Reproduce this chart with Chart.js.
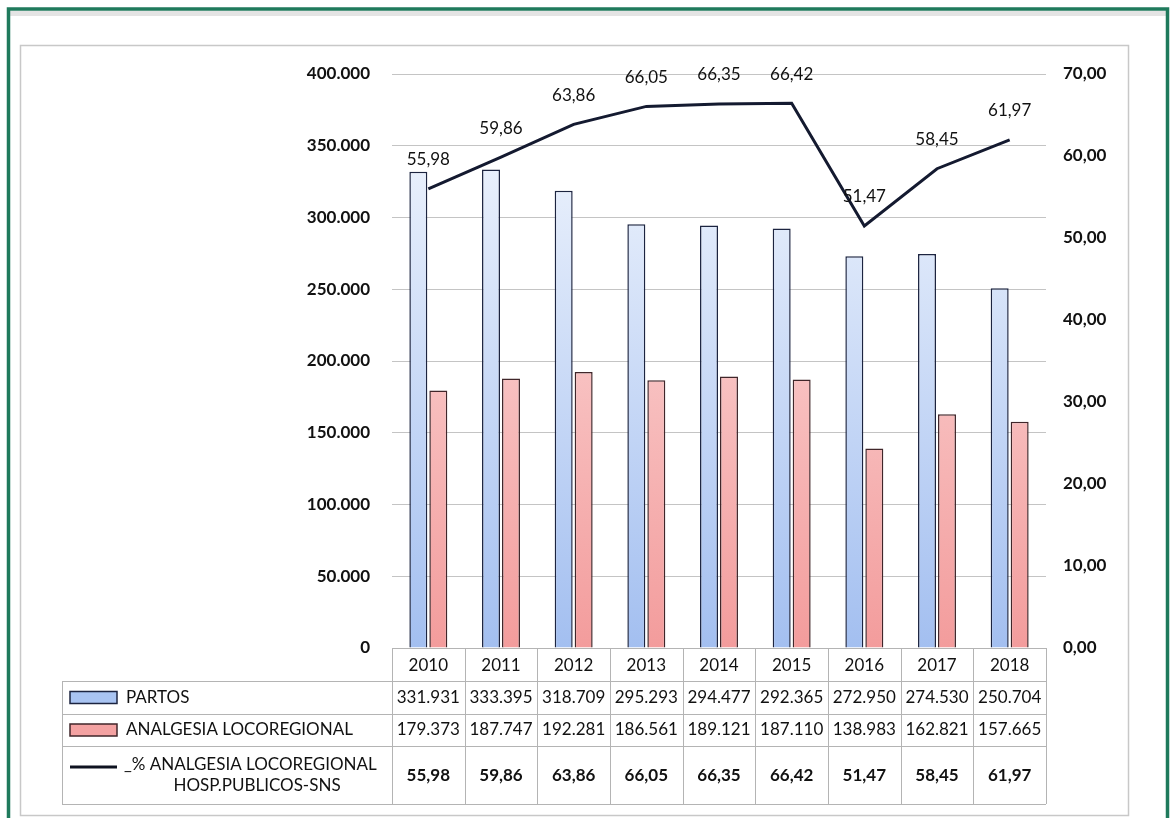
<!DOCTYPE html>
<html>
<head>
<meta charset="utf-8">
<script src="https://cdn.jsdelivr.net/npm/chart.js@4/dist/chart.umd.min.js"></script>
<style>
  html, body { margin: 0; padding: 0; background: #fff; overflow: hidden; }
  canvas { display: block; }
</style>
</head>
<body>
<canvas id="chart" width="1173" height="818"></canvas>
<script>
// Births and loco-regional analgesia, Spanish public hospitals (SNS), 2010-2018
const years = ['2010', '2011', '2012', '2013', '2014', '2015', '2016', '2017', '2018'];
const partos = [331931, 333395, 318709, 295293, 294477, 292365, 272950, 274530, 250704];
const analgesia = [179373, 187747, 192281, 186561, 189121, 187110, 138983, 162821, 157665];
const pctAnalgesia = [55.98, 59.86, 63.86, 66.05, 66.35, 66.42, 51.47, 58.45, 61.97];
const seriesNames = ['PARTOS', 'ANALGESIA LOCOREGIONAL', ['_% ANALGESIA LOCOREGIONAL', 'HOSP.PUBLICOS-SNS']];
const leftAxis = { min: 0, max: 400000, step: 50000 };
const rightAxis = { min: 0, max: 70, step: 10 };

const FONT = 'Lato';
const fmtThousands = v => v === 0 ? '0' : String(Math.round(v)).replace(/\B(?=(\d{3})+(?!\d))/g, '.');
const fmtPct = v => v.toFixed(2).replace('.', ',');

function vGradient(ctx, area, top, bottom) {
  const g = ctx.createLinearGradient(0, area.top, 0, area.bottom);
  g.addColorStop(0, top);
  g.addColorStop(1, bottom);
  return g;
}

// Page frame: green border, grey strip and inner chart-area box
const framePlugin = {
  id: 'frame',
  beforeDraw(chart) {
    const c = chart.ctx;
    c.save();
    c.fillStyle = '#ffffff';
    c.fillRect(0, 0, chart.width, chart.height);
    c.fillStyle = '#e4e4e4';
    c.fillRect(10, 11, 1156, 5);
    c.strokeStyle = '#1f7a5c';
    c.lineWidth = 3.5;
    c.strokeRect(8.5, 9, 1159, 840);
    c.strokeStyle = '#c8c8c8';
    c.lineWidth = 1.5;
    c.strokeRect(20.5, 45.5, 1108, 770);
    c.restore();
  }
};

// Value labels above the percentage line
const lineLabelPlugin = {
  id: 'lineLabels',
  afterDatasetsDraw(chart) {
    const c = chart.ctx;
    const meta = chart.getDatasetMeta(2);
    c.save();
    c.font = `17px ${FONT}`;
    c.fillStyle = '#111';
    c.textAlign = 'center';
    c.textBaseline = 'middle';
    meta.data.forEach((pt, i) => {
      c.fillText(fmtPct(pctAnalgesia[i]), pt.x, pt.y - 29);
    });
    c.restore();
  }
};

// Data table under the plot, aligned with the category columns
const tablePlugin = {
  id: 'dataTable',
  afterDraw(chart) {
    const c = chart.ctx;
    const ca = chart.chartArea;
    const n = years.length;
    const colW = (ca.right - ca.left) / n;
    const rows = [ca.bottom, 681, 714, 746, 804];
    const tableLeft = 62;
    c.save();
    c.strokeStyle = '#b4b4b4';
    c.lineWidth = 1;
    // horizontal rules
    c.beginPath();
    c.moveTo(ca.left, rows[0] + 0.5); c.lineTo(ca.right, rows[0] + 0.5);
    for (let r = 1; r < rows.length; r++) {
      c.moveTo(tableLeft, rows[r] + 0.5); c.lineTo(ca.right, rows[r] + 0.5);
    }
    // vertical rules
    for (let i = 0; i <= n; i++) {
      const x = Math.round(ca.left + i * colW) + 0.5;
      c.moveTo(x, rows[0]); c.lineTo(x, rows[4]);
    }
    c.moveTo(tableLeft + 0.5, rows[1]); c.lineTo(tableLeft + 0.5, rows[4]);
    c.stroke();

    c.fillStyle = '#111';
    c.textAlign = 'center';
    c.textBaseline = 'middle';
    c.font = `17px ${FONT}`;
    const xs = chart.scales.x;
    years.forEach((y, i) => {
      const cx = xs.getPixelForValue(i);
      c.fillText(y, cx, (rows[0] + rows[1]) / 2 + 1);
      c.fillText(fmtThousands(partos[i]), cx, (rows[1] + rows[2]) / 2);
      c.fillText(fmtThousands(analgesia[i]), cx, (rows[2] + rows[3]) / 2);
    });
    c.font = `bold 17px ${FONT}`;
    pctAnalgesia.forEach((v, i) => {
      c.fillText(fmtPct(v), xs.getPixelForValue(i), (rows[3] + rows[4]) / 2 + 1);
    });

    // legend keys and series names
    const keyX = 70, keyW = 47, keyH = 12;
    const drawKey = (y, fill, stroke) => {
      c.fillStyle = fill;
      c.fillRect(keyX, y - keyH / 2, keyW, keyH);
      c.strokeStyle = stroke;
      c.lineWidth = 1.5;
      c.strokeRect(keyX, y - keyH / 2, keyW, keyH);
    };
    const y1 = (rows[1] + rows[2]) / 2, y2 = (rows[2] + rows[3]) / 2, y3 = (rows[3] + rows[4]) / 2;
    drawKey(y1, '#a9c4f2', '#1c2440');
    drawKey(y2, '#f4a2a2', '#40262a');
    c.strokeStyle = '#0e1220';
    c.lineWidth = 3;
    c.beginPath();
    c.moveTo(keyX, y3 - 8); c.lineTo(keyX + keyW, y3 - 8);
    c.stroke();

    c.fillStyle = '#111';
    c.font = `17px ${FONT}`;
    c.textAlign = 'left';
    c.fillText(seriesNames[0], 126, y1);
    c.fillText(seriesNames[1], 126, y2);
    c.fillText(seriesNames[2][0], 124, y3 - 10);
    c.textAlign = 'center';
    c.fillText(seriesNames[2][1], 257, y3 + 11);
    c.restore();
  }
};

new Chart(document.getElementById('chart'), {
  data: {
    labels: years,
    datasets: [
      {
        type: 'bar',
        label: seriesNames[0],
        data: partos,
        yAxisID: 'y',
        order: 2,
        backgroundColor: ctx => ctx.chart.chartArea ? vGradient(ctx.chart.ctx, ctx.chart.chartArea, '#f6f9fe', '#a3bff0') : '#c8daf6',
        borderColor: '#1c2440',
        borderWidth: 1.5,
        categoryPercentage: 0.55,
        barPercentage: 0.9
      },
      {
        type: 'bar',
        label: seriesNames[1],
        data: analgesia,
        yAxisID: 'y',
        order: 2,
        backgroundColor: ctx => ctx.chart.chartArea ? vGradient(ctx.chart.ctx, ctx.chart.chartArea, '#fde9e9', '#f39c9c') : '#f6bcbc',
        borderColor: '#40262a',
        borderWidth: 1.5,
        categoryPercentage: 0.55,
        barPercentage: 0.9
      },
      {
        type: 'line',
        label: seriesNames[2].join(' '),
        data: pctAnalgesia,
        yAxisID: 'y1',
        order: 0,
        borderColor: '#141a30',
        borderWidth: 3,
        pointRadius: 0,
        tension: 0,
        fill: false
      }
    ]
  },
  options: {
    responsive: false,
    devicePixelRatio: 1,
    animation: false,
    layout: { padding: { top: 74, left: 0, right: 0, bottom: 0 } },
    plugins: { legend: { display: false }, tooltip: { enabled: false } },
    scales: {
      x: {
        grid: { display: false },
        border: { display: false },
        ticks: { display: false },
        afterFit(s) { s.height = 170; }
      },
      y: {
        position: 'left',
        min: leftAxis.min, max: leftAxis.max,
        ticks: {
          stepSize: leftAxis.step,
          padding: 22,
          color: '#111',
          font: { family: FONT, size: 17, weight: 'bold' },
          callback: v => fmtThousands(v)
        },
        grid: { color: '#c4c4c4', lineWidth: 1, drawTicks: false },
        border: { display: false },
        afterFit(s) { s.width = 392; }
      },
      y1: {
        position: 'right',
        min: rightAxis.min, max: rightAxis.max,
        ticks: {
          stepSize: rightAxis.step,
          padding: 17,
          color: '#111',
          font: { family: FONT, size: 17, weight: 'bold' },
          callback: v => fmtPct(v)
        },
        grid: { drawOnChartArea: false, drawTicks: false },
        border: { display: false },
        afterFit(s) { s.width = 127; }
      }
    }
  },
  plugins: [framePlugin, lineLabelPlugin, tablePlugin]
});
</script>
</body>
</html>
